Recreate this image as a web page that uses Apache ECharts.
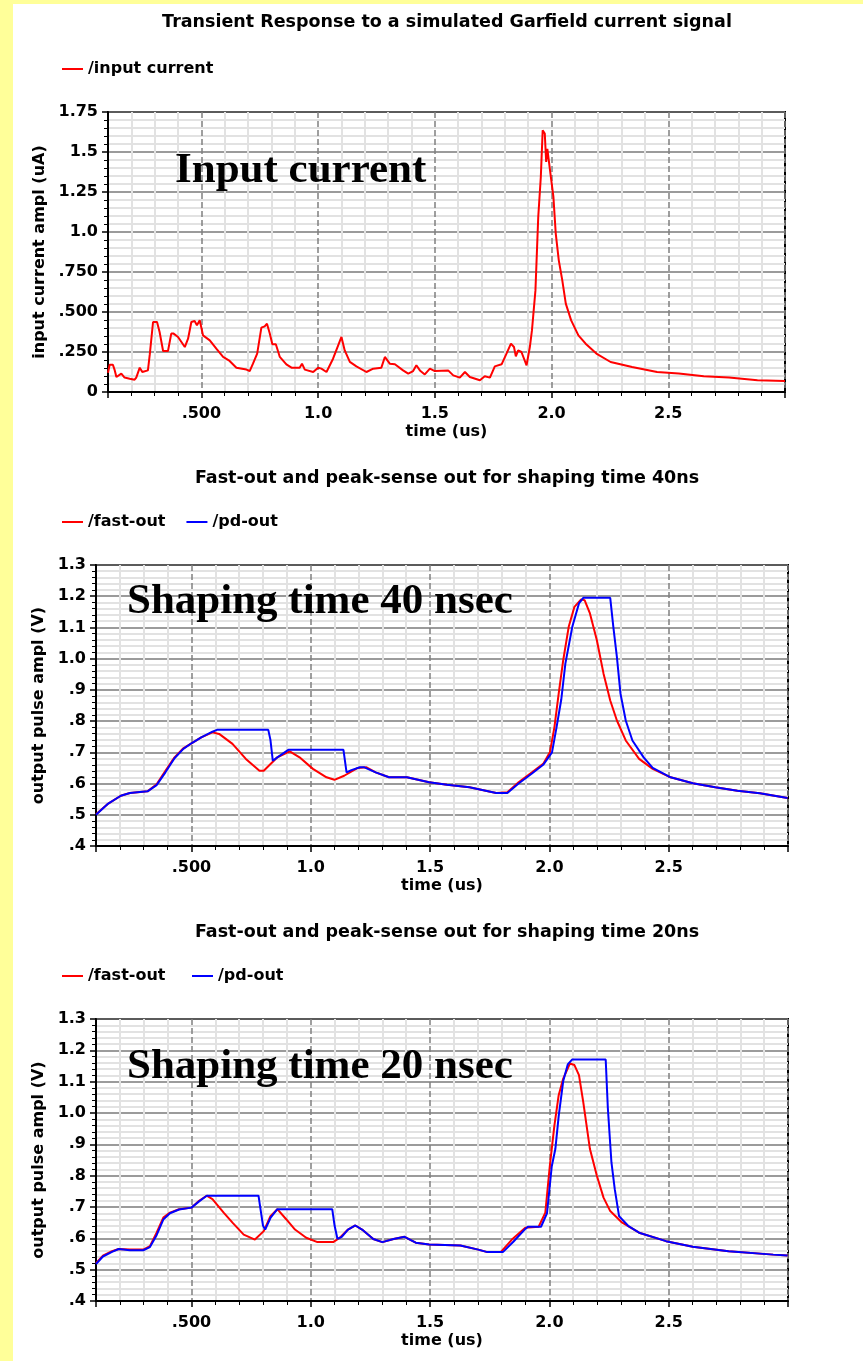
<!DOCTYPE html>
<html><head><meta charset="utf-8">
<script src="https://cdn.jsdelivr.net/npm/echarts@6/dist/echarts.min.js"></script>
<style>html,body{margin:0;padding:0;background:#fff}#c{width:863px;height:1361px}</style>
</head><body><div id="c"></div>
<script>
// ---------- DATA ----------
const titles = [
  'Transient Response to a simulated Garfield current signal',
  'Fast-out and peak-sense out for shaping time 40ns',
  'Fast-out and peak-sense out for shaping time 20ns'
];
const overlayTexts = ['Input current', 'Shaping time 40 nsec', 'Shaping time 20 nsec'];
const xTickValues = [0.5, 1.0, 1.5, 2.0, 2.5];
const xTickLabels = ['.500', '1.0', '1.5', '2.0', '2.5'];
const y1TickValues = [0, 0.25, 0.5, 0.75, 1.0, 1.25, 1.5, 1.75];
const y1TickLabels = ['0', '.250', '.500', '.750', '1.0', '1.25', '1.5', '1.75'];
const y2TickValues = [0.4, 0.5, 0.6, 0.7, 0.8, 0.9, 1.0, 1.1, 1.2, 1.3];
const y2TickLabels = ['.4', '.5', '.6', '.7', '.8', '.9', '1.0', '1.1', '1.2', '1.3'];

// input current (uA)
const inputT = [0.100,0.107,0.121,0.129,0.136,0.143,0.157,0.171,0.193,0.214,0.221,0.236,0.247,0.271,0.279,0.293,0.310,0.321,0.336,0.357,0.371,0.381,0.400,0.429,0.443,0.457,0.471,0.481,0.493,0.507,0.536,0.564,0.593,0.621,0.650,0.693,0.707,0.721,0.739,0.757,0.771,0.781,0.793,0.804,0.819,0.836,0.864,0.886,0.921,0.931,0.943,0.979,1.000,1.014,1.036,1.064,1.086,1.100,1.114,1.136,1.164,1.207,1.236,1.271,1.286,1.307,1.329,1.364,1.386,1.407,1.421,1.436,1.457,1.479,1.500,1.557,1.579,1.607,1.629,1.650,1.693,1.714,1.736,1.757,1.786,1.807,1.826,1.839,1.847,1.857,1.871,1.893,1.907,1.916,1.931,1.943,1.954,1.962,1.971,1.977,1.982,1.989,1.997,2.008,2.018,2.031,2.046,2.061,2.084,2.115,2.146,2.192,2.253,2.345,2.452,2.545,2.652,2.760,2.882,3.000];
const inputV = [0.12,0.17,0.17,0.135,0.094,0.083,0.115,0.09,0.083,0.077,0.09,0.152,0.125,0.135,0.235,0.4375,0.4375,0.375,0.256,0.256,0.365,0.365,0.344,0.281,0.333,0.4375,0.444,0.417,0.448,0.354,0.323,0.271,0.219,0.194,0.152,0.140,0.131,0.177,0.240,0.402,0.410,0.427,0.365,0.298,0.298,0.219,0.173,0.152,0.152,0.177,0.140,0.125,0.152,0.146,0.125,0.208,0.292,0.344,0.260,0.188,0.160,0.125,0.146,0.152,0.219,0.177,0.173,0.135,0.115,0.131,0.167,0.135,0.110,0.146,0.131,0.135,0.104,0.090,0.125,0.094,0.073,0.098,0.090,0.160,0.173,0.240,0.302,0.281,0.223,0.260,0.250,0.167,0.281,0.385,0.635,1.094,1.344,1.635,1.615,1.4375,1.52,1.51,1.344,1.219,0.99,0.823,0.698,0.552,0.448,0.354,0.302,0.240,0.1875,0.156,0.125,0.115,0.098,0.090,0.073,0.069];

// shaping 40ns: fast-out (V)
const fast40T = [0.100,0.148,0.204,0.242,0.316,0.354,0.391,0.429,0.466,0.500,0.541,0.588,0.616,0.672,0.728,0.785,0.803,0.860,0.912,0.953,1.009,1.066,1.099,1.140,1.197,1.234,1.272,1.328,1.403,1.496,1.571,1.665,1.777,1.824,1.871,1.927,1.974,2.002,2.021,2.039,2.058,2.081,2.105,2.133,2.148,2.170,2.199,2.227,2.255,2.283,2.320,2.376,2.433,2.508,2.601,2.695,2.788,2.882,2.998];
const fast40V = [0.502,0.534,0.561,0.570,0.575,0.598,0.641,0.684,0.713,0.729,0.748,0.764,0.759,0.727,0.679,0.641,0.641,0.684,0.703,0.684,0.647,0.620,0.612,0.625,0.650,0.652,0.636,0.620,0.620,0.604,0.596,0.588,0.570,0.572,0.604,0.636,0.663,0.700,0.780,0.888,0.995,1.102,1.166,1.190,1.187,1.145,1.059,0.952,0.866,0.802,0.738,0.679,0.647,0.620,0.601,0.588,0.577,0.569,0.554];
// shaping 40ns: pd-out (V)
const pd40T = [0.100,0.148,0.204,0.242,0.316,0.354,0.391,0.429,0.466,0.500,0.541,0.588,0.607,0.822,0.831,0.841,0.860,0.906,1.137,1.150,1.170,1.206,1.225,1.272,1.328,1.403,1.496,1.571,1.665,1.777,1.824,1.871,1.927,1.974,2.011,2.030,2.050,2.067,2.096,2.124,2.142,2.255,2.268,2.283,2.298,2.320,2.348,2.395,2.433,2.508,2.601,2.695,2.788,2.882,2.998];
const pd40V = [0.500,0.534,0.561,0.570,0.575,0.595,0.636,0.681,0.711,0.729,0.748,0.766,0.772,0.772,0.740,0.673,0.684,0.708,0.708,0.636,0.643,0.652,0.652,0.636,0.620,0.620,0.604,0.596,0.588,0.570,0.570,0.600,0.632,0.660,0.700,0.780,0.870,0.984,1.102,1.177,1.195,1.195,1.102,1.005,0.888,0.802,0.738,0.684,0.650,0.620,0.601,0.588,0.577,0.569,0.554];

// shaping 20ns: fast-out (V)
const fast20T = [0.100,0.129,0.167,0.195,0.242,0.298,0.326,0.354,0.382,0.410,0.448,0.500,0.532,0.564,0.588,0.635,0.672,0.719,0.766,0.803,0.831,0.860,0.897,0.934,0.981,1.028,1.094,1.122,1.156,1.187,1.215,1.262,1.300,1.347,1.393,1.440,1.496,1.627,1.702,1.740,1.796,1.843,1.899,1.955,1.983,2.002,2.021,2.039,2.058,2.086,2.105,2.124,2.142,2.170,2.199,2.227,2.255,2.302,2.376,2.489,2.601,2.751,2.938,2.998];
const fast20V = [0.521,0.545,0.559,0.566,0.564,0.564,0.575,0.618,0.666,0.682,0.693,0.698,0.720,0.736,0.725,0.682,0.650,0.612,0.596,0.623,0.671,0.693,0.661,0.628,0.602,0.588,0.588,0.602,0.628,0.641,0.628,0.598,0.588,0.598,0.605,0.586,0.580,0.577,0.564,0.556,0.556,0.596,0.634,0.637,0.682,0.832,0.960,1.057,1.110,1.158,1.153,1.121,1.035,0.885,0.800,0.730,0.687,0.652,0.618,0.591,0.573,0.559,0.548,0.545];
// shaping 20ns: pd-out (V)
const pd20T = [0.100,0.129,0.167,0.195,0.242,0.298,0.326,0.354,0.382,0.410,0.448,0.500,0.532,0.564,0.781,0.790,0.800,0.809,0.831,0.860,1.090,1.100,1.112,1.130,1.156,1.187,1.215,1.262,1.300,1.347,1.393,1.440,1.496,1.627,1.702,1.740,1.805,1.850,1.899,1.910,1.965,1.990,2.010,2.025,2.039,2.058,2.077,2.096,2.236,2.245,2.260,2.274,2.292,2.330,2.376,2.489,2.601,2.751,2.938,2.998];
const pd20V = [0.518,0.542,0.557,0.566,0.562,0.562,0.572,0.610,0.660,0.680,0.692,0.698,0.718,0.736,0.736,0.690,0.640,0.628,0.665,0.693,0.693,0.640,0.598,0.605,0.628,0.641,0.628,0.598,0.588,0.598,0.605,0.586,0.580,0.577,0.564,0.556,0.556,0.590,0.630,0.637,0.637,0.680,0.830,0.885,0.990,1.102,1.155,1.171,1.171,1.016,0.843,0.757,0.671,0.640,0.618,0.591,0.573,0.559,0.548,0.545];

// ---------- CHART ----------
const zip = (t, v) => t.map((x, i) => [x, v[i]]);
const FONT = 'DejaVu Sans';
const RED = '#ff0000', BLUE = '#0000ff';
function labelFor(vals, labs) {
  return function (v) {
    for (let i = 0; i < vals.length; i++) if (Math.abs(v - vals[i]) < 1e-6) return labs[i];
    return '';
  };
}
const textBold = (size) => ({ fontFamily: FONT, fontWeight: 'bold', fontSize: size, color: '#000' });

function mkX(gi) {
  return {
    type: 'value', gridIndex: gi, min: 0.1, max: 3.0, splitNumber: 5,
    name: 'time (us)', nameLocation: 'middle', nameGap: 32, nameTextStyle: textBold(16),
    axisLine: { onZero: false, lineStyle: { color: '#000', width: 2 } },
    axisTick: { length: 6, lineStyle: { color: '#000', width: 1.5 } },
    minorTick: { show: true, splitNumber: 5, length: 4, lineStyle: { color: '#000', width: 1 } },
    axisLabel: Object.assign({ margin: 14, formatter: labelFor(xTickValues, xTickLabels) }, textBold(16)),
    splitLine: { show: true, lineStyle: { color: '#808080', type: 'dashed', width: 1.5 } },
    minorSplitLine: { show: true, lineStyle: { color: '#e2e2e2', width: 2 } }
  };
}
function mkY(gi, min, max, interval, vals, labs, name, gap) {
  return {
    type: 'value', gridIndex: gi, min: min, max: max, interval: interval,
    name: name, nameLocation: 'middle', nameGap: gap, nameTextStyle: textBold(16),
    axisLine: { show: true, onZero: false, lineStyle: { color: '#000', width: 2 } },
    axisTick: { show: true, length: 6, lineStyle: { color: '#000', width: 1.5 } },
    minorTick: { show: true, splitNumber: 5, length: 4, lineStyle: { color: '#000', width: 1 } },
    axisLabel: Object.assign({ margin: 10, formatter: labelFor(vals, labs) }, textBold(16)),
    splitLine: { show: true, lineStyle: { color: '#7a7a7a', width: 1.5 } },
    minorSplitLine: { show: true, lineStyle: { color: '#e2e2e2', width: 2 } }
  };
}
const gridBase = { show: true, backgroundColor: '#fff', borderColor: '#000', borderWidth: 2, containLabel: false };
const legendBase = {
  icon: 'rect', itemWidth: 21, itemHeight: 2, itemGap: 21, left: 62,
  textStyle: textBold(16), padding: 0
};
const serif = 'bold 43px "Liberation Serif", "Times New Roman", serif';

const option = {
  animation: false,
  backgroundColor: '#fff',
  title: [
    { text: titles[0], left: 447, top: 13, textAlign: 'center', textStyle: textBold(17.5), padding: 0 },
    { text: titles[1], left: 447, top: 469, textAlign: 'center', textStyle: textBold(17.5), padding: 0 },
    { text: titles[2], left: 447, top: 923, textAlign: 'center', textStyle: textBold(17.5), padding: 0 }
  ],
  legend: [
    Object.assign({ top: 61, data: ['/input current'] }, legendBase),
    Object.assign({ top: 514, data: ['/fast-out', '/pd-out'] }, legendBase),
    Object.assign({ top: 968, data: ['/fast-out ', '/pd-out '] }, legendBase)
  ],
  grid: [
    Object.assign({ left: 108, right: 78, top: 112, height: 280 }, gridBase),
    Object.assign({ left: 96, right: 75, top: 565, height: 281 }, gridBase),
    Object.assign({ left: 96, right: 75, top: 1019, height: 282 }, gridBase)
  ],
  xAxis: [mkX(0), mkX(1), mkX(2)],
  yAxis: [
    mkY(0, 0, 1.75, 0.25, y1TickValues, y1TickLabels, 'input current ampl (uA)', 54),
    mkY(1, 0.4, 1.3, 0.1, y2TickValues, y2TickLabels, 'output pulse ampl (V)', 42),
    mkY(2, 0.4, 1.3, 0.1, y2TickValues, y2TickLabels, 'output pulse ampl (V)', 42)
  ],
  series: [
    { name: '/input current', type: 'line', xAxisIndex: 0, yAxisIndex: 0, data: zip(inputT, inputV), showSymbol: false, color: RED, lineStyle: { width: 2, color: RED } },
    { name: '/fast-out', type: 'line', xAxisIndex: 1, yAxisIndex: 1, data: zip(fast40T, fast40V), showSymbol: false, color: RED, lineStyle: { width: 2, color: RED } },
    { name: '/pd-out', type: 'line', xAxisIndex: 1, yAxisIndex: 1, data: zip(pd40T, pd40V), showSymbol: false, color: BLUE, lineStyle: { width: 2, color: BLUE } },
    { name: '/fast-out ', type: 'line', xAxisIndex: 2, yAxisIndex: 2, data: zip(fast20T, fast20V), showSymbol: false, color: RED, lineStyle: { width: 2, color: RED } },
    { name: '/pd-out ', type: 'line', xAxisIndex: 2, yAxisIndex: 2, data: zip(pd20T, pd20V), showSymbol: false, color: BLUE, lineStyle: { width: 2, color: BLUE } }
  ],
  graphic: [
    { type: 'rect', left: 0, top: 0, shape: { width: 13, height: 1361 }, style: { fill: '#ffff99' }, silent: true },
    { type: 'rect', left: 0, top: 0, shape: { width: 863, height: 4 }, style: { fill: '#ffff99' }, silent: true },
    { type: 'text', x: 175, y: 171, z: 100, style: { text: overlayTexts[0], font: serif, fill: '#000', verticalAlign: 'middle' } },
    { type: 'text', x: 127, y: 602, z: 100, style: { text: overlayTexts[1], font: serif, fill: '#000', verticalAlign: 'middle' } },
    { type: 'text', x: 127, y: 1067, z: 100, style: { text: overlayTexts[2], font: serif, fill: '#000', verticalAlign: 'middle' } }
  ]
};
const chart = echarts.init(document.getElementById('c'), null, { renderer: 'canvas' });
chart.setOption(option);
</script>
</body></html>
